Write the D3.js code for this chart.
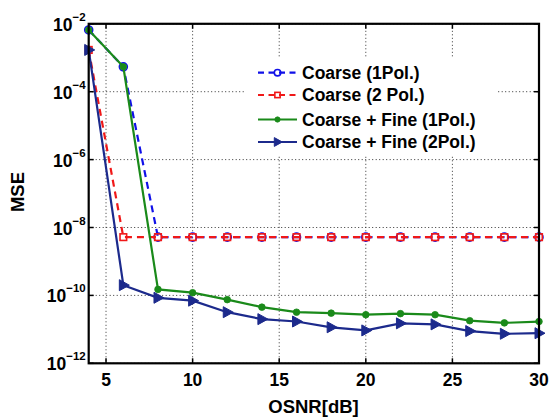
<!DOCTYPE html>
<html><head><meta charset="utf-8">
<script src="https://cdn.jsdelivr.net/npm/d3@7"></script>
<style>body{margin:0;background:#fff}svg{display:block}text{font-family:"Liberation Sans",Arial,sans-serif;font-weight:bold;fill:#000}</style>
</head><body><svg id="c" width="550" height="418"></svg>
<script>
const osnr = [4,6,8,10,12,14,16,18,20,22,24,26,28,30];
const coarse1 = [6.6e-3,5.4e-4,5.2e-9,5.2e-9,5.2e-9,5.2e-9,5.2e-9,5.2e-9,5.2e-9,5.2e-9,5.2e-9,5.2e-9,5.2e-9,5.2e-9];
const coarse2 = [1.7e-3,5.2e-9,5.2e-9,5.2e-9,5.2e-9,5.2e-9,5.2e-9,5.2e-9,5.2e-9,5.2e-9,5.2e-9,5.2e-9,5.2e-9,5.2e-9];
const fine1 = [6.6e-3,5.4e-4,1.5e-10,1.2e-10,7.5e-11,4.5e-11,3.2e-11,3.0e-11,2.7e-11,2.9e-11,2.7e-11,1.8e-11,1.55e-11,1.7e-11];
const fine2 = [1.7e-3,2.0e-10,8.5e-11,7.0e-11,3.2e-11,2.0e-11,1.7e-11,1.15e-11,9.3e-12,1.5e-11,1.4e-11,8.9e-12,7.4e-12,7.7e-12];
const seriesNames = ["Coarse (1Pol.)","Coarse (2 Pol.)","Coarse + Fine (1Pol.)","Coarse + Fine (2Pol.)"];
const xTicks = [5,10,15,20,25,30];
const yTickExp = [-2,-4,-6,-8,-10,-12];

const svg = d3.select("#c");
const L=88.7,R=539,T=23.8,B=363.3;
const x = d3.scaleLinear().domain([4,30]).range([L,R]);
const y = d3.scaleLog().domain([1e-12,1e-2]).range([B,T]);

// grid
const g = svg.append("g");
g.selectAll(".vx").data(xTicks).enter().append("line")
 .attr("x1",d=>x(d)).attr("x2",d=>x(d)).attr("y1",T).attr("y2",B)
 .attr("stroke","#333").attr("stroke-width",1).attr("stroke-dasharray","1,2.5");
g.selectAll(".hy").data(yTickExp).enter().append("line")
 .attr("y1",d=>y(Math.pow(10,d))).attr("y2",d=>y(Math.pow(10,d))).attr("x1",L).attr("x2",R)
 .attr("stroke","#333").attr("stroke-width",1).attr("stroke-dasharray","1,2.5");

const styles = [
 {data:coarse1,color:"#1010e8",dash:"7,5",marker:"circle"},
 {data:coarse2,color:"#f01818",dash:"7,5",marker:"square"},
 {data:fine1,color:"#1a8a1a",dash:null,marker:"dot"},
 {data:fine2,color:"#1c2a8c",dash:null,marker:"tri"}
];
const line = d3.line().x(d=>x(d[0])).y(d=>y(d[1]));
function drawMarker(sel,type,color,k){
  k = k||1;
  if(type==="circle") sel.append("circle").attr("r",4*k).attr("fill","none").attr("stroke",color).attr("stroke-width",1.6);
  else if(type==="square") sel.append("rect").attr("x",-3.3*k).attr("y",-3.3*k).attr("width",6.6*k).attr("height",6.6*k).attr("fill","none").attr("stroke",color).attr("stroke-width",1.6);
  else if(type==="dot") sel.append("circle").attr("r",3.3*k).attr("fill",color).attr("stroke",color).attr("stroke-width",0.8);
  else sel.append("path").attr("d",`M${-4*k},${-5.5*k}L${6*k},0L${-4*k},${5.5*k}Z`).attr("fill",color).attr("stroke",color).attr("stroke-width",1);
}
styles.forEach(s=>{
  const pts = osnr.map((o,i)=>[o,s.data[i]]);
  svg.append("path").attr("d",line(pts)).attr("fill","none").attr("stroke",s.color)
    .attr("stroke-width",2.2).attr("stroke-dasharray",s.dash);
  pts.forEach(p=>{
    const m = svg.append("g").attr("transform",`translate(${x(p[0])},${y(p[1])})`);
    drawMarker(m,s.marker,s.color);
  });
});

// axes box
svg.append("rect").attr("x",L).attr("y",T).attr("width",R-L).attr("height",B-T)
  .attr("fill","none").attr("stroke","#000").attr("stroke-width",2.2);
// ticks inward
xTicks.forEach(t=>{
  svg.append("line").attr("x1",x(t)).attr("x2",x(t)).attr("y1",B).attr("y2",B-5).attr("stroke","#000").attr("stroke-width",1.5);
  svg.append("line").attr("x1",x(t)).attr("x2",x(t)).attr("y1",T).attr("y2",T+5).attr("stroke","#000").attr("stroke-width",1.5);
  svg.append("text").attr("x",x(t)).attr("y",385.5).attr("text-anchor","middle").attr("font-size",17.5).text(t);
});
yTickExp.forEach(e=>{
  const yy=y(Math.pow(10,e));
  svg.append("line").attr("x1",L).attr("x2",L+5).attr("y1",yy).attr("y2",yy).attr("stroke","#000").attr("stroke-width",1.5);
  svg.append("line").attr("x1",R).attr("x2",R-5).attr("y1",yy).attr("y2",yy).attr("stroke","#000").attr("stroke-width",1.5);
  const t = svg.append("text").attr("x",L-3).attr("y",yy+7).attr("text-anchor","end").attr("font-size",17.5);
  t.append("tspan").text("10");
  t.append("tspan").attr("dy",-10).attr("font-size",11.5).text("\u2212"+(-e));
});
svg.append("text").attr("x",313.5).attr("y",413).attr("text-anchor","middle").attr("font-size",18.5).text("OSNR[dB]");
svg.append("text").attr("transform","translate(24,192) rotate(-90)").attr("text-anchor","middle").attr("font-size",18.5).text("MSE");

// legend
svg.append("rect").attr("x",246).attr("y",58).attr("width",250).attr("height",98).attr("fill","#fff");
const rowsY=[72.7,95,119.5,142];
styles.forEach((s,i)=>{
  const yy=rowsY[i];
  svg.append("line").attr("x1",258).attr("x2",297).attr("y1",yy).attr("y2",yy).attr("stroke",s.color).attr("stroke-width",2.2).attr("stroke-dasharray",s.dash?"6,4.5":null);
  const m=svg.append("g").attr("transform",`translate(277.5,${yy})`);
  drawMarker(m,s.marker,s.color,0.8);
  svg.append("text").attr("x",302).attr("y",yy+6.3).attr("font-size",17.5).text(seriesNames[i]);
});
</script></body></html>
